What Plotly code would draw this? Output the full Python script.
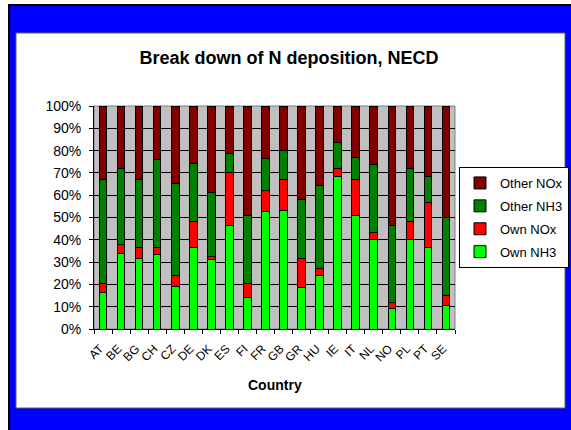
import plotly.graph_objects as go

countries = ["AT", "BE", "BG", "CH", "CZ", "DE", "DK", "ES", "FI", "FR",
             "GB", "GR", "HU", "IE", "IT", "NL", "NO", "PL", "PT", "SE"]
own_nh3 = [16.4, 34.0, 31.8, 33.6, 19.0, 36.6, 31.0, 46.4, 14.2, 52.5,
           53.1, 18.4, 23.9, 68.4, 50.7, 40.3, 9.0, 40.3, 36.7, 10.4]
own_nox = [4.2, 3.9, 4.8, 3.0, 5.2, 11.4, 1.4, 23.6, 6.4, 9.7,
           14.1, 13.4, 3.1, 3.7, 16.5, 3.1, 2.9, 7.9, 20.2, 4.8]
other_nh3 = [46.3, 34.2, 30.3, 39.5, 41.2, 26.3, 28.6, 8.7, 30.1, 14.1,
             12.7, 26.3, 37.2, 11.5, 9.8, 30.5, 34.5, 23.9, 11.5, 34.8]
other_nox = [33.1, 27.9, 33.1, 23.9, 34.6, 25.7, 39.0, 21.3, 49.3, 23.7,
             20.1, 41.9, 35.8, 16.4, 23.0, 26.1, 53.6, 27.9, 31.6, 50.0]

W, H = 571, 430
L, R, T, B = 94, 455, 106, 329  # plot area in pixels


def px(x):
    return (x - L) / (R - L)


def py(y):
    return (B - y) / (B - T)


series = [
    ("Own NH3", own_nh3, "#00FF00", 4),
    ("Own NOx", own_nox, "#FF0000", 3),
    ("Other NH3", other_nh3, "#008000", 2),
    ("Other NOx", other_nox, "#800000", 1),
]

fig = go.Figure()
for name, vals, col, rank in series:
    fig.add_trace(go.Bar(
        x=countries, y=vals, name=name, legendgroup=name, legendrank=rank,
        marker=dict(color=col, line=dict(color="black", width=1)),
        hoverinfo="skip",
    ))

font = "Arial, Liberation Sans, sans-serif"

fig.update_layout(
    width=W, height=H,
    margin=dict(l=L, r=W - R, t=T, b=H - B, pad=0, autoexpand=False),
    paper_bgcolor="#0000FF",
    plot_bgcolor="rgba(0,0,0,0)",
    barmode="stack",
    bargap=0.58,
    font=dict(family=font, color="black", size=12),
    showlegend=True,
    legend=dict(
        x=px(459), y=py(167), xanchor="left", yanchor="top",
        bgcolor="white", bordercolor="black", borderwidth=1,
        traceorder="grouped", tracegroupgap=3, itemwidth=30,
        font=dict(family=font, size=13, color="black"),
    ),
    title=dict(
        text="<b>Break down of N deposition, NECD</b>",
        x=289 / W, xanchor="center", xref="container",
        y=1 - 58 / H, yanchor="middle", yref="container",
        font=dict(family=font, size=18, color="black"),
    ),
    xaxis=dict(
        type="category", showgrid=False, showline=True, linecolor="black",
        linewidth=1, ticks="outside", ticklen=4, tickcolor="black",
        tickson="boundaries", tickangle=-45,
        ticklabelstandoff=7, ticklabelshift=-3,
        tickfont=dict(family=font, size=12, color="black"),
        range=[-0.5, len(countries) - 0.5],
    ),
    yaxis=dict(
        range=[0, 100], dtick=10, ticksuffix="%", showgrid=True,
        gridcolor="black", gridwidth=1, showline=True, linecolor="black",
        linewidth=1, ticks="outside", ticklen=4, tickcolor="black",
        ticklabelstandoff=5,
        tickfont=dict(family=font, size=14, color="black"), zeroline=False,
    ),
    annotations=[dict(
        text="<b>Country</b>", x=0.5, y=py(385), xref="paper", yref="paper",
        xanchor="center", yanchor="middle", showarrow=False,
        font=dict(family=font, size=14, color="black"),
    )],
    shapes=[
        # white page margin on the left and top
        dict(type="rect", xref="paper", yref="paper", layer="below",
             x0=px(-5), x1=px(8), y0=py(440), y1=py(-5),
             fillcolor="white", line=dict(width=0)),
        dict(type="rect", xref="paper", yref="paper", layer="below",
             x0=px(-5), x1=px(580), y0=py(4), y1=py(-5),
             fillcolor="white", line=dict(width=0)),
        dict(type="rect", xref="paper", yref="paper", layer="below",
             x0=px(16), x1=px(565), y0=py(408), y1=py(33),
             fillcolor="white", line=dict(color="#606060", width=1)),
        dict(type="rect", xref="paper", yref="paper", layer="below",
             x0=0, x1=1, y0=0, y1=1,
             fillcolor="#C0C0C0", line=dict(color="#808080", width=1)),
        dict(type="line", xref="paper", yref="paper",
             x0=px(9), x1=px(9), y0=py(431), y1=py(5),
             line=dict(color="black", width=2)),
        dict(type="line", xref="paper", yref="paper",
             x0=px(8), x1=px(572), y0=py(5), y1=py(5),
             line=dict(color="black", width=2)),
    ],
)

fig.write_html("out.html",
               config={"displayModeBar": False, "staticPlot": True},
               post_script="document.body.style.margin='0';"
                           "document.body.style.overflow='hidden';")
